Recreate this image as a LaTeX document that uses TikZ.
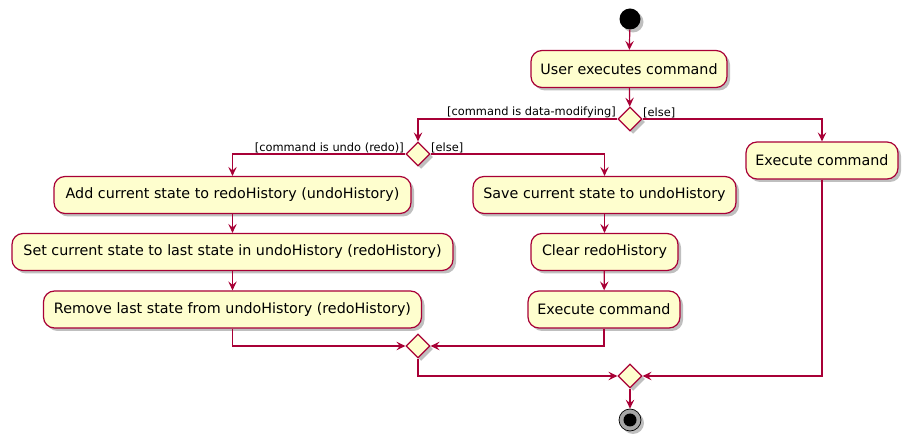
\documentclass[tikz,border=0pt]{standalone}
\usepackage{fontspec}
\setmainfont{DejaVu Sans}
\usetikzlibrary{shapes.geometric,arrows.meta,shadows}
\definecolor{umlred}{HTML}{A80036}
\definecolor{umlfill}{HTML}{FEFECE}
\begin{document}
\begin{tikzpicture}[x=1pt,y=-1pt,
  shad/.style={drop shadow={shadow xshift=3pt,shadow yshift=-3pt,opacity=0.25,fill=black}},
  act/.style={draw=umlred,fill=umlfill,line width=1.2pt,rounded corners=11pt,
    minimum height=37pt,inner sep=0pt,font=\fontsize{14.3}{16}\selectfont,shad},
  dia/.style={diamond,draw=umlred,fill=umlfill,line width=1.2pt,inner sep=0pt,
    minimum width=24pt,minimum height=24pt,shad},
  flow/.style={draw=umlred,line width=1.2pt,-{Stealth[length=9pt,width=8.5pt,inset=3.5pt]}},
  guard/.style={font=\fontsize{11.4}{13}\selectfont,inner sep=1pt}]
\useasboundingbox (0,0) rectangle (914,446);
% start
\node[circle,fill=black,minimum size=21pt,inner sep=0pt,shad] (start) at (630,19) {};
\node[act,minimum width=196pt] (user) at (629,69) {User executes command};
\node[dia] (d1) at (630,119) {};
\node[act,minimum width=152pt] (execR) at (822,160.5) {Execute command};
\node[dia] (d2) at (418,154) {};
\node[act,minimum width=357pt] (add) at (232.5,195) {Add current state to redoHistory (undoHistory)};
\node[act,minimum width=441pt] (set) at (232.5,252) {Set current state to last state in undoHistory (redoHistory)};
\node[act,minimum width=378pt] (rem) at (232.5,309.5) {Remove last state from undoHistory (redoHistory)};
\node[act,minimum width=263pt] (save) at (604.5,195) {Save current state to undoHistory};
\node[act,minimum width=147pt] (clear) at (604.5,252) {Clear redoHistory};
\node[act,minimum width=152pt] (execM) at (604,309.5) {Execute command};
\node[dia] (m1) at (418,346) {};
\node[dia] (m2) at (630,376) {};
% end
\node[circle,draw=black,line width=0.7pt,fill=black!35,minimum size=22pt,inner sep=0pt,shad] (endo) at (630,420) {};
\node[circle,fill=black,minimum size=13pt,inner sep=0pt] (endi) at (630,420) {};
% flows
\draw[flow] (start) -- (user);
\draw[flow] (user) -- (d1);
\draw[flow] (d1.west) -| (d2.north);
\draw[flow] (d1.east) -| (execR.north);
\draw[flow] (d2.west) -| (add.north);
\draw[flow] (d2.east) -| (save.north);
\draw[flow] (add) -- (set);
\draw[flow] (set) -- (rem);
\draw[flow] (save) -- (clear);
\draw[flow] (clear) -- (execM);
\draw[flow] (rem.south) |- (m1.west);
\draw[flow] (execM.south) |- (m1.east);
\draw[flow] (m1.south) |- (m2.west);
\draw[flow] (execR.south) |- (m2.east);
\draw[flow] (m2) -- (endo);
% guards
\node[guard,anchor=south east] (g1) at (617,119) {[command is data-modifying]};
\node[guard,anchor=south west] (g2) at (642,119) {[else]};
\node[guard,anchor=south east] (g3) at (405,154) {[command is undo (redo)]};
\node[guard,anchor=south west] (g4) at (430,154) {[else]};
\end{tikzpicture}
\end{document}
